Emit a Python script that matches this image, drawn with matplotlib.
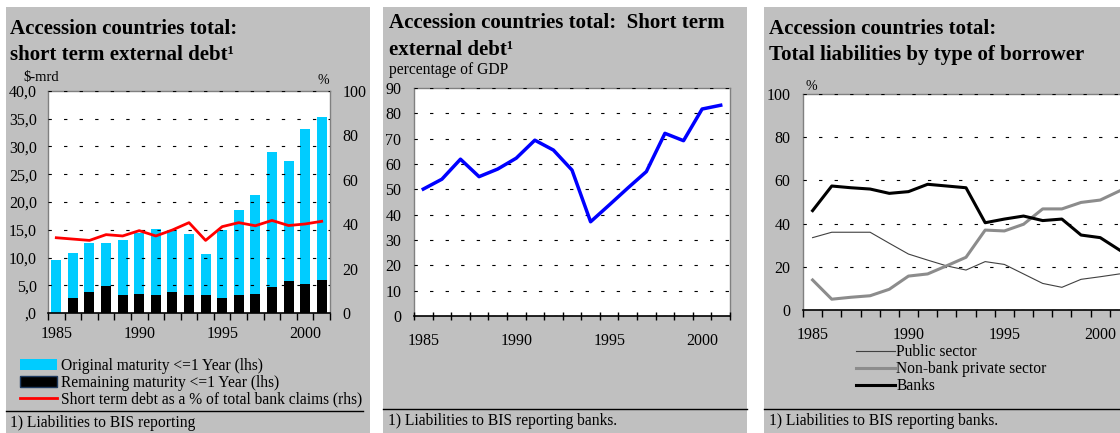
import numpy as np
import matplotlib
matplotlib.use('Agg')
import matplotlib.pyplot as plt
from matplotlib.patches import Rectangle, Patch
from matplotlib.lines import Line2D

plt.rcParams['font.family'] = ['Liberation Serif', 'DejaVu Serif']

# ---- data ----
years = np.arange(1985, 2002)

# panel 1 : $-mrd (lhs) and % (rhs)
original_maturity = [9.5, 10.8, 12.7, 12.7, 13.2, 14.5, 15.1, 15.0, 14.2, 10.6,
                     15.0, 18.6, 21.3, 29.0, 27.3, 33.2, 35.3]
remaining_maturity = [0.0, 2.75, 3.7, 4.9, 3.2, 3.5, 3.2, 3.7, 3.2, 3.2,
                      2.75, 3.2, 3.5, 4.7, 5.7, 5.2, 5.9]
share_bank_claims = [33.9, 33.3, 32.7, 35.3, 34.7, 37.1, 34.7, 37.4, 40.7, 32.7,
                     38.9, 40.7, 39.3, 41.7, 39.4, 40.1, 41.3]

# panel 2 : % of GDP
debt_gdp = [50.1, 54.0, 61.9, 55.0, 58.0, 62.3, 69.4, 65.5, 57.6, 37.2,
            43.8, 50.5, 57.0, 72.1, 69.2, 81.7, 83.2]

# panel 3 : % of total liabilities
public_sector = [33.5, 36.0, 36.0, 36.0, 30.9, 25.9, 23.1, 20.4, 18.5, 22.4,
                 21.1, 16.7, 12.3, 10.5, 14.2, 15.4, 16.7]
nonbank_private = [13.9, 5.0, 5.9, 6.6, 9.6, 15.7, 16.7, 20.5, 24.4, 37.0,
                   36.6, 39.7, 46.8, 46.8, 49.8, 50.9, 55.1]
banks = [46.0, 57.4, 56.6, 56.0, 54.0, 54.8, 58.2, 57.4, 56.6, 40.4,
         42.1, 43.5, 41.4, 42.1, 34.7, 33.5, 27.8]

year_labels = [1985, 1990, 1995, 2000]

W, H = 1120, 433
GREY = '#C0C0C0'
TITLE_FS = 15
TEXT_FS = 11.2
TICK_FS = 11.5
fig = plt.figure(figsize=(W / 100, H / 100), dpi=100, facecolor='white')


def box(x0, y0, x1, y1):
    # pixel box (top-left origin) -> figure fraction
    return [x0 / W, 1 - y1 / H, (x1 - x0) / W, (y1 - y0) / H]


def ftext(x, y, s, **kw):
    fig.text(x / W, 1 - y / H, s, **kw)


def hline(x0, x1, y):
    fig.add_artist(Line2D([x0 / W, x1 / W], [1 - y / H, 1 - y / H],
                          color='black', lw=1.0, transform=fig.transFigure))


# grey panel backgrounds
for x0, x1 in [(6, 370), (383, 747), (764, 1125)]:
    fig.add_artist(Rectangle((x0 / W, 0), (x1 - x0) / W, 1 - 7 / H,
                             transform=fig.transFigure, facecolor=GREY,
                             edgecolor='none', zorder=-10))


def style_axes(ax, ypad, xpad):
    ax.set_facecolor('white')
    for s in ['left', 'right', 'top']:
        ax.spines[s].set_color('#808080')
        ax.spines[s].set_linewidth(1.0)
    ax.spines['bottom'].set_color('black')
    ax.spines['bottom'].set_linewidth(1.2)
    ax.set_xlim(1984.5, 2001.5)
    ax.set_xticks(year_labels)
    ax.set_xticks(np.arange(1984.5, 2002, 1.0), minor=True)
    ax.tick_params(axis='x', which='major', length=0, pad=xpad, labelsize=TICK_FS)
    ax.tick_params(axis='x', which='minor', length=5, width=1.0, direction='out')
    ax.tick_params(axis='y', length=0, pad=ypad, labelsize=TICK_FS)
    ax.grid(axis='y', color='black', linestyle=(0, (3, 11)), lw=0.8)
    ax.set_axisbelow(False)


# ---------------- panel 1 ----------------
ax1 = fig.add_axes(box(48, 91, 330, 313))
style_axes(ax1, 8, 9)
ax1.bar(years, original_maturity, width=0.6, color='#00CCFF', zorder=2)
ax1.bar(years, remaining_maturity, width=0.6, color='black', zorder=3)
ax1.set_ylim(0, 40)
ax1.set_yticks(np.arange(0, 41, 5))
ax1.set_yticklabels([',0' if v == 0 else f'{v:.1f}'.replace('.', ',') for v in range(0, 41, 5)])
ax1b = ax1.twinx()
ax1b.plot(years, share_bank_claims, color='#FF0000', lw=2, zorder=4)
ax1b.set_ylim(0, 100)
ax1b.set_yticks(np.arange(0, 101, 20))
ax1b.tick_params(axis='y', length=0, pad=9, labelsize=TICK_FS)
for s in ax1b.spines.values():
    s.set_visible(False)
ax1b.set_xlim(1984.5, 2001.5)

ftext(10, 29, 'Accession countries total:', fontsize=TITLE_FS, fontweight='bold', va='center')
ftext(10, 55, 'short term external debt\u00b9', fontsize=TITLE_FS, fontweight='bold', va='center')
ftext(23, 78, '$-mrd', fontsize=10.5, va='center')
ftext(317, 80, '%', fontsize=10, va='center')

h1 = [Patch(facecolor='#00CCFF'), Patch(facecolor='black', edgecolor='#1f3a5f'),
      Line2D([], [], color='#FF0000', lw=2)]
l1 = ['Original maturity <=1 Year (lhs)', 'Remaining maturity <=1 Year (lhs)',
      'Short term debt as a % of total bank claims (rhs)']
fig.legend(h1, l1, loc='upper left', bbox_to_anchor=(20 / W, 1 - 358 / H),
           frameon=False, fontsize=TEXT_FS, handlelength=2.4, handleheight=0.7,
           handletextpad=0.25, labelspacing=0.05, borderpad=0, borderaxespad=0)
hline(6, 363, 411)
ftext(10, 423, '1) Liabilities to BIS reporting', fontsize=TEXT_FS, va='center')

# ---------------- panel 2 ----------------
ax2 = fig.add_axes(box(414, 88, 730, 316))
style_axes(ax2, 9, 12)
ax2.tick_params(axis='x', which='minor', direction='inout', length=6)
ax2.plot(years, debt_gdp, color='#0000FF', lw=2.5, zorder=3)
ax2.set_ylim(0, 90)
ax2.set_yticks(np.arange(0, 91, 10))

ftext(389, 23, 'Accession countries total:  Short term', fontsize=TITLE_FS, fontweight='bold', va='center')
ftext(389, 50, 'external debt\u00b9', fontsize=TITLE_FS, fontweight='bold', va='center')
ftext(389, 70, 'percentage of GDP', fontsize=TEXT_FS, va='center')
hline(383, 747, 409)
ftext(388, 421, '1) Liabilities to BIS reporting banks.', fontsize=TEXT_FS, va='center')

# ---------------- panel 3 ----------------
ax3 = fig.add_axes(box(803, 94, 1129, 310))
style_axes(ax3, 9, 12)
ax3.plot(years, public_sector, color='#404040', lw=0.8, zorder=3, label='Public sector')
ax3.plot(years, nonbank_private, color='#8C8C8C', lw=2.2, zorder=3, label='Non-bank private sector')
ax3.plot(years, banks, color='black', lw=2.2, zorder=4, label='Banks')
ax3.set_ylim(0, 100)
ax3.set_yticks(np.arange(0, 101, 20))

ftext(769, 29, 'Accession countries total:', fontsize=TITLE_FS, fontweight='bold', va='center')
ftext(769, 55, 'Total liabilities by type of borrower', fontsize=TITLE_FS, fontweight='bold', va='center')
ftext(806, 87, '%', fontsize=10, va='center')
h3, l3 = ax3.get_legend_handles_labels()
fig.legend(h3, l3, loc='upper left', bbox_to_anchor=(856 / W, 1 - 344 / H),
           frameon=False, fontsize=TEXT_FS, handlelength=2.5,
           handletextpad=0.1, labelspacing=0.08, borderpad=0, borderaxespad=0)
hline(764, 1120, 409)
ftext(769, 421, '1) Liabilities to BIS reporting banks.', fontsize=TEXT_FS, va='center')

fig.savefig('out.png', dpi=100, facecolor='white')
